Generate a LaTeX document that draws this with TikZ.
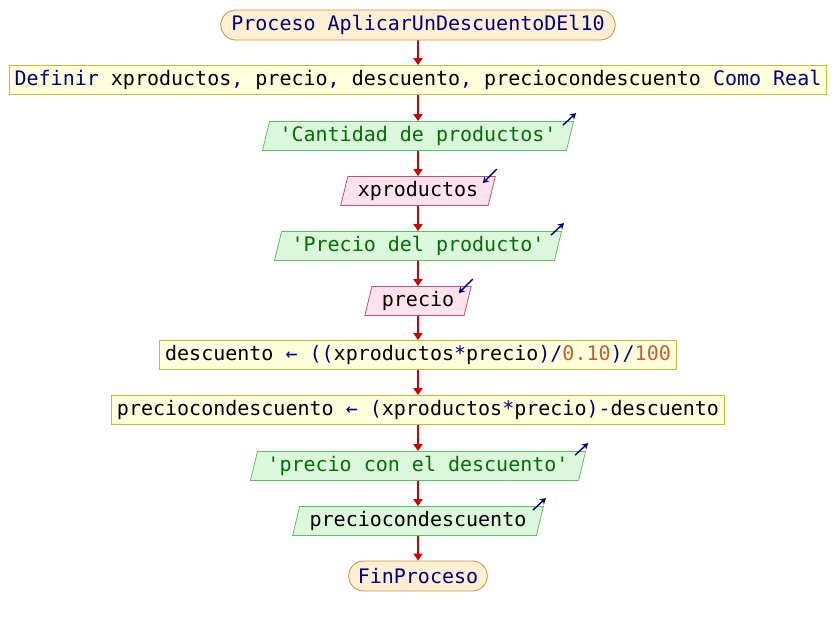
\documentclass[tikz,border=0pt]{standalone}
\usepackage{xcolor}
\usepackage{fontspec}
\setmonofont{DejaVu Sans Mono}
\usepackage{tikz}
\usetikzlibrary{shapes.geometric,shapes.misc,arrows.meta}

\definecolor{kwblue}{HTML}{000080}
\definecolor{strgreen}{HTML}{007000}
\definecolor{numorange}{HTML}{C06030}
\definecolor{termfill}{HTML}{FFEFD2}
\definecolor{termline}{HTML}{C8903C}
\definecolor{procfill}{HTML}{FFFFDC}
\definecolor{procline}{HTML}{C0BC3C}
\definecolor{outfill}{HTML}{DCF8DC}
\definecolor{outborder}{HTML}{5CC05C}
\definecolor{infill}{HTML}{FFE2EC}
\definecolor{inborder}{HTML}{C05078}
\definecolor{flowred}{HTML}{CC0000}

\newcommand{\kwd}[1]{\textcolor{kwblue}{#1}}
\newcommand{\strg}[1]{\textcolor{strgreen}{#1}}
\newcommand{\nmb}[1]{\textcolor{numorange}{#1}}

\tikzset{
  base/.style={font=\ttfamily\fontsize{20}{24}\selectfont, minimum height=29pt, inner ysep=0pt, line width=0.8pt},
  startstop/.style={base, rounded rectangle, draw=termline, fill=termfill, inner xsep=7pt, minimum height=30pt},
  procbox/.style={base, rectangle, draw=procline, fill=procfill, inner xsep=5.5pt},
  outbox/.style={base, trapezium, trapezium left angle=70, trapezium right angle=110, trapezium stretches body, draw=outborder, fill=outfill, inner xsep=10pt},
  inbox/.style={base, trapezium, trapezium left angle=70, trapezium right angle=110, trapezium stretches body, draw=inborder, fill=infill, inner xsep=10pt},
  flow/.style={draw=flowred, line width=1.6pt, -{Triangle[width=9pt,length=7pt]}},
  ioarrow/.style={draw=kwblue, line width=1.4pt, -{Stealth[width=7pt,length=6pt]}}
}

\begin{document}
\begin{tikzpicture}[x=1pt, y=1pt]
  \useasboundingbox (0,0) rectangle (836,-625);
  % nodes, top to bottom
  \node[startstop] (inicio) at (418,-25) {\kwd{Proceso AplicarUnDescuentoDEl10}};
  \node[procbox] (defvar) at (418,-80) {\kwd{Definir} xproductos\kwd{,} precio\kwd{,} descuento\kwd{,} preciocondescuento \kwd{Como Real}};
  \node[outbox] (msgcant) at (418,-136) {\strg{'Cantidad de productos'}};
  \node[inbox] (leercant) at (418,-191) {xproductos};
  \node[outbox] (msgprecio) at (418,-246) {\strg{'Precio del producto'}};
  \node[inbox] (leerprecio) at (418,-301) {precio};
  \node[procbox] (calcdesc) at (418,-355) {descuento \kwd{← ((}xproductos\kwd{*}precio\kwd{)/}\nmb{0.10}\kwd{)/}\nmb{100}};
  \node[procbox] (calcfinal) at (418,-410) {preciocondescuento \kwd{← (}xproductos\kwd{*}precio\kwd{)-}descuento};
  \node[outbox] (msgfinal) at (418,-466) {\strg{'precio con el descuento'}};
  \node[outbox] (mostrar) at (418,-521) {preciocondescuento};
  \node[startstop] (fin) at (418,-576) {\kwd{FinProceso}};

  % flow lines
  \foreach \a/\b in {inicio/defvar, defvar/msgcant, msgcant/leercant, leercant/msgprecio,
                     msgprecio/leerprecio, leerprecio/calcdesc, calcdesc/calcfinal,
                     calcfinal/msgfinal, msgfinal/mostrar, mostrar/fin}
    \draw[flow] (\a) -- (\b);

  % input/output marks
  \foreach \n in {msgcant, msgprecio, msgfinal, mostrar}
    \draw[ioarrow] ([shift={(-11,-4)}]\n.top right corner) -- ([shift={(2,8)}]\n.top right corner);
  \foreach \n in {leercant, leerprecio}
    \draw[ioarrow] ([shift={(1,7)}]\n.top right corner) -- ([shift={(-13,-7)}]\n.top right corner);
\end{tikzpicture}
\end{document}
